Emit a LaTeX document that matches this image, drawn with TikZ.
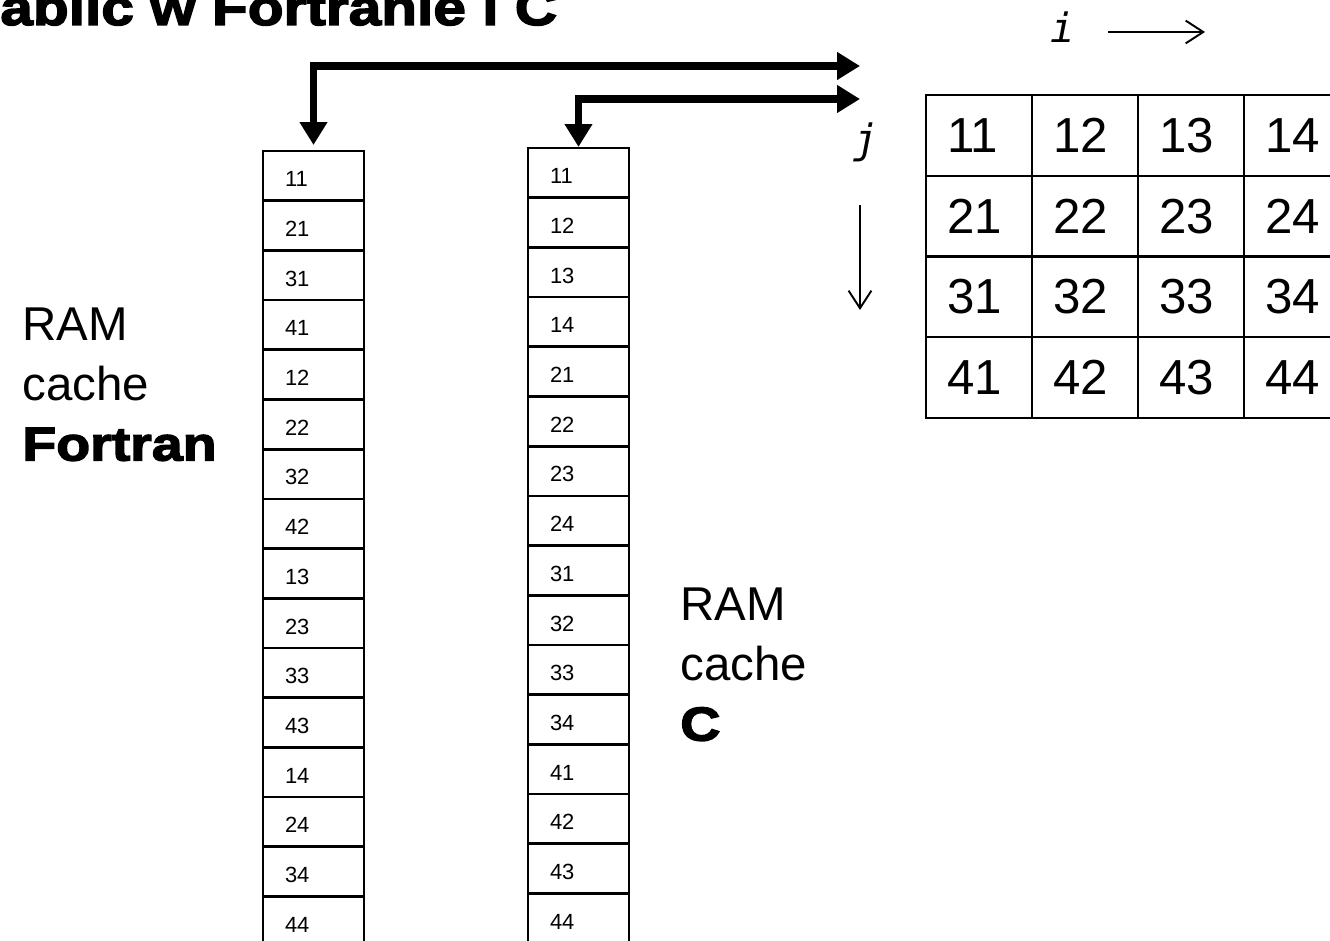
\documentclass[tikz,border=0pt]{standalone}
\usepackage{fontspec}
\setmainfont{Liberation Sans}
\newfontfamily\idxfont{DejaVu Sans Mono}
\newfontfamily\blackfont[FakeStretch=1.17,BoldFeatures={FakeBold=3}]{Liberation Sans}
\usetikzlibrary{arrows.meta,positioning}
\definecolor{inkBlack}{RGB}{0,0,0}
\tikzset{
  ramcell/.style={
    rectangle, draw=inkBlack, line width=1.5pt, outer sep=0pt, inner sep=0pt,
    minimum width=2.02cm, minimum height=0.994cm, text width=1.14cm, align=left,
    text height=12.4pt, text depth=0pt, font=\fontsize{12.5}{14}\selectfont
  },
  matcell/.style={
    rectangle, draw=inkBlack, line width=1.4pt, outer sep=0pt, inner sep=0pt,
    minimum width=2.12cm, minimum height=1.615cm, text width=1.28cm, align=left,
    font=\fontsize{28}{32}\selectfont
  },
  memArrow/.style={{Triangle[length=13pt,width=15pt]}-{Triangle[length=13pt,width=15pt]},
    line width=4.5pt, color=inkBlack},
  idxArrow/.style={-{Straight Barb[length=10pt,width=13pt]}, line width=1.1pt, color=inkBlack}
}

\begin{document}
\begin{tikzpicture}[
    lbl/.style={font=\fontsize{27}{34}\selectfont, align=left, inner sep=0pt, color=inkBlack},
    idxlbl/.style={font=\idxfont\itshape\fontsize{23}{26}\selectfont, inner sep=0pt}
  ]
    \useasboundingbox (0,0) rectangle (26.6,18.82);
    \clip (0,0) rectangle (26.6,18.82);

    \node[anchor=base west, inner sep=0pt, font=\blackfont\bfseries\fontsize{28.5}{34}\selectfont]
          (title) at (0,18.32) {ablic w Fortranie i C};

    % Fortran column
    \node[ramcell] (f11) at (6.27,15.303) {11};
    \node[ramcell, below=0pt of f11] (f21) {21};
    \node[ramcell, below=0pt of f21] (f31) {31};
    \node[ramcell, below=0pt of f31] (f41) {41};
    \node[ramcell, below=0pt of f41] (f12) {12};
    \node[ramcell, below=0pt of f12] (f22) {22};
    \node[ramcell, below=0pt of f22] (f32) {32};
    \node[ramcell, below=0pt of f32] (f42) {42};
    \node[ramcell, below=0pt of f42] (f13) {13};
    \node[ramcell, below=0pt of f13] (f23) {23};
    \node[ramcell, below=0pt of f23] (f33) {33};
    \node[ramcell, below=0pt of f33] (f43) {43};
    \node[ramcell, below=0pt of f43] (f14) {14};
    \node[ramcell, below=0pt of f14] (f24) {24};
    \node[ramcell, below=0pt of f24] (f34) {34};
    \node[ramcell, below=0pt of f34] (f44) {44};

    % C column
    \node[ramcell] (c11) at (11.57,15.363) {11};
    \node[ramcell, below=0pt of c11] (c12) {12};
    \node[ramcell, below=0pt of c12] (c13) {13};
    \node[ramcell, below=0pt of c13] (c14) {14};
    \node[ramcell, below=0pt of c14] (c21) {21};
    \node[ramcell, below=0pt of c21] (c22) {22};
    \node[ramcell, below=0pt of c22] (c23) {23};
    \node[ramcell, below=0pt of c23] (c24) {24};
    \node[ramcell, below=0pt of c24] (c31) {31};
    \node[ramcell, below=0pt of c31] (c32) {32};
    \node[ramcell, below=0pt of c32] (c33) {33};
    \node[ramcell, below=0pt of c33] (c34) {34};
    \node[ramcell, below=0pt of c34] (c41) {41};
    \node[ramcell, below=0pt of c41] (c42) {42};
    \node[ramcell, below=0pt of c42] (c43) {43};
    \node[ramcell, below=0pt of c43] (c44) {44};

    \node[lbl, anchor=north west] (ramF) at (0.44,12.66) {RAM\\cache\\{\blackfont\bfseries Fortran}};
    \node[lbl, anchor=north west] (ramC) at (13.6,7.06) {RAM\\cache\\{\blackfont\bfseries C}};

    % matrix
    \node[matcell] (m11) at (19.58,16.112) {11};
    \node[matcell, right=0pt of m11] (m12) {12};
    \node[matcell, right=0pt of m12] (m13) {13};
    \node[matcell, right=0pt of m13] (m14) {14};
    \node[matcell, below=0pt of m11] (m21) {21};
    \node[matcell, right=0pt of m21] (m22) {22};
    \node[matcell, right=0pt of m22] (m23) {23};
    \node[matcell, right=0pt of m23] (m24) {24};
    \node[matcell, below=0pt of m21] (m31) {31};
    \node[matcell, right=0pt of m31] (m32) {32};
    \node[matcell, right=0pt of m32] (m33) {33};
    \node[matcell, right=0pt of m33] (m34) {34};
    \node[matcell, below=0pt of m31] (m41) {41};
    \node[matcell, right=0pt of m41] (m42) {42};
    \node[matcell, right=0pt of m42] (m43) {43};
    \node[matcell, right=0pt of m43] (m44) {44};

    % index arrows
    \node[idxlbl, anchor=base west] (iLbl) at (21.0,17.96) {i};
    \coordinate (iStart) at (22.16,18.18);
    \coordinate (iEnd) at (24.1,18.18);
    \draw[idxArrow] (iStart) -- (iEnd);
    \node[idxlbl] (jLbl) at (17.32,15.98) {j};
    \coordinate (jStart) at (17.2,14.72);
    \coordinate (jEnd) at (17.2,12.62);
    \draw[idxArrow] (jStart) -- (jEnd);

    % links to the matrix
    \coordinate (fArr) at (17.2,17.5);
    \coordinate (cArr) at (17.2,16.84);
    \draw[memArrow, shorten >=3.4pt] (fArr) -| (f11);
    \draw[memArrow, shorten >=0.6pt] (cArr) -| (c11);
\end{tikzpicture}
\end{document}
